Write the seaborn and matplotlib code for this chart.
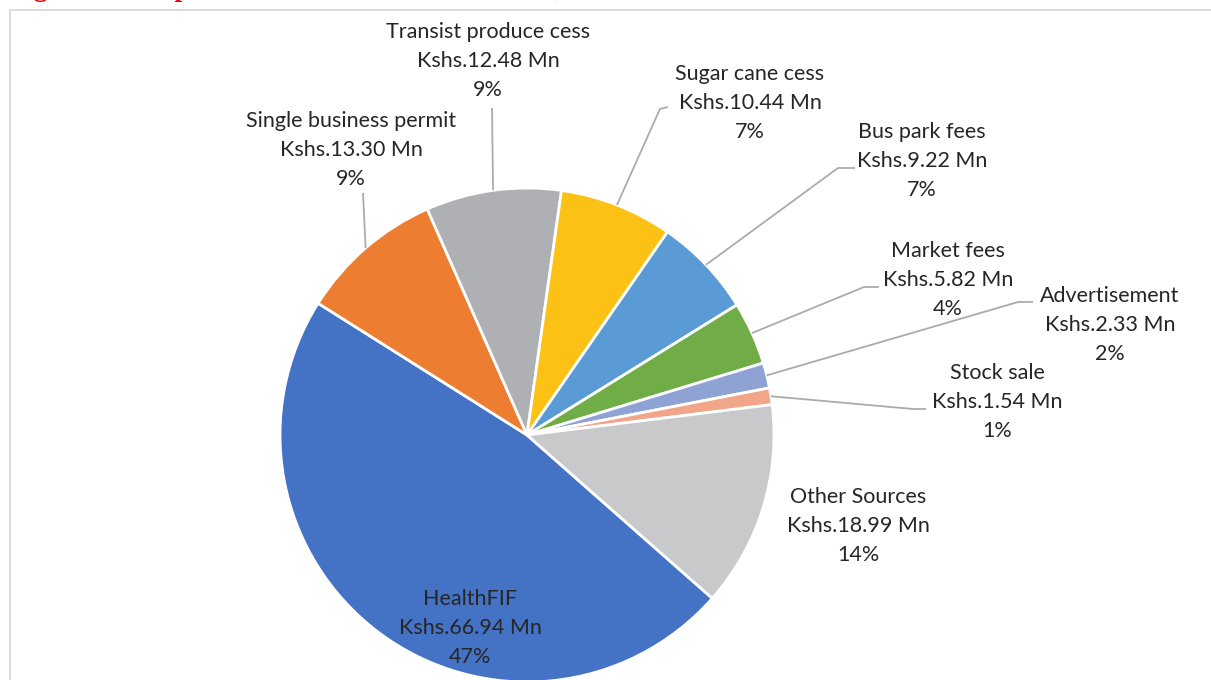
import matplotlib
matplotlib.use("Agg")
import matplotlib.pyplot as plt
from matplotlib.patches import Rectangle
import numpy as np
import seaborn as sns

# Own source revenue streams (Kshs. million)
categories = ["HealthFIF", "Single business permit", "Transist produce cess",
              "Sugar cane cess", "Bus park fees", "Market fees",
              "Advertisement", "Stock sale", "Other Sources"]
amounts_mn = [66.94, 13.30, 12.48, 10.44, 9.22, 5.82, 2.33, 1.54, 18.99]
amount_labels = ["Kshs.66.94 Mn", "Kshs.13.30 Mn", "Kshs.12.48 Mn",
                 "Kshs.10.44 Mn", "Kshs.9.22 Mn", "Kshs.5.82 Mn",
                 "Kshs.2.33 Mn", "Kshs.1.54 Mn", "Kshs.18.99 Mn"]
percent_labels = ["47%", "9%", "9%", "7%", "7%", "4%", "2%", "1%", "14%"]

slice_colors = ["#4472C4", "#ED7D31", "#AFB0B3", "#FBC115", "#5B9BD5",
                "#70AD47", "#8FA2D4", "#F1A68A", "#C8C9CB"]

title_text = "Figure 3.2: Top Own Source Revenue Streams, FY 2023/24"

sns.set_theme(style="white")
plt.rcParams["font.family"] = ["Lato", "DejaVu Sans"]

W, H = 1211, 680
CX, CY, R = 527, 435, 247  # pie centre and radius, in pixels


def to_data(x, y):
    return (x - CX) / R, (CY - y) / R


fig = plt.figure(figsize=(W / 100, H / 100), dpi=100)
fig.patch.set_facecolor("white")
ax = fig.add_axes([0, 0, 1, 1])

palette = sns.color_palette(slice_colors)
wedges, _ = ax.pie(amounts_mn, colors=palette, startangle=-41.4,
                   counterclock=False, radius=1.0,
                   wedgeprops=dict(edgecolor="white", linewidth=2.0))

ax.set_aspect("auto")
ax.set_xlim(-CX / R, (W - CX) / R)
ax.set_ylim(-(H - CY) / R, CY / R)
ax.axis("off")

# label block centres and leader-line bends (pixels)
label_centers = [(470, 628), (351, 150), (488, 61), (750, 103), (922, 161),
                 (948, 280), (1110, 325), (997, 402), (858, 526)]
leader_bends = [None, [(363, 193)], [(492, 108)], [(660, 109), (668, 107)],
                [(838, 168), (855, 168)], [(864, 287), (879, 287)],
                [(1018, 302), (1033, 302)], [(913, 409), (926, 409)], None]

for w, name, amt, pct, c, bends in zip(wedges, categories, amount_labels,
                                       percent_labels, label_centers,
                                       leader_bends):
    if bends is not None:
        mid = np.deg2rad((w.theta1 + w.theta2) / 2)
        pts = [(np.cos(mid), np.sin(mid))] + [to_data(*p) for p in bends]
        xs, ys = zip(*pts)
        ax.plot(xs, ys, color="#ABABAB", lw=1.3, solid_capstyle="butt",
                zorder=1)
    tx, ty = to_data(*c)
    ax.text(tx, ty, f"{name}\n{amt}\n{pct}", ha="center", va="center",
            multialignment="center", fontsize=15.5, color="#262626",
            linespacing=1.55, zorder=3)

# chart frame
fig.add_artist(Rectangle((10 / W, -0.1), 1.2, (H - 10) / H + 0.1,
                         transform=fig.transFigure, fill=False,
                         edgecolor="#D9D9D9", lw=1.3))

# heading above the chart
fig.text(9 / W, 1 + 4.5 / H, title_text, ha="left", va="baseline",
         color="#FF0000", fontsize=20, fontweight="bold",
         family=["Liberation Serif", "DejaVu Serif"])

fig.savefig("out.png", dpi=100, facecolor="white")
